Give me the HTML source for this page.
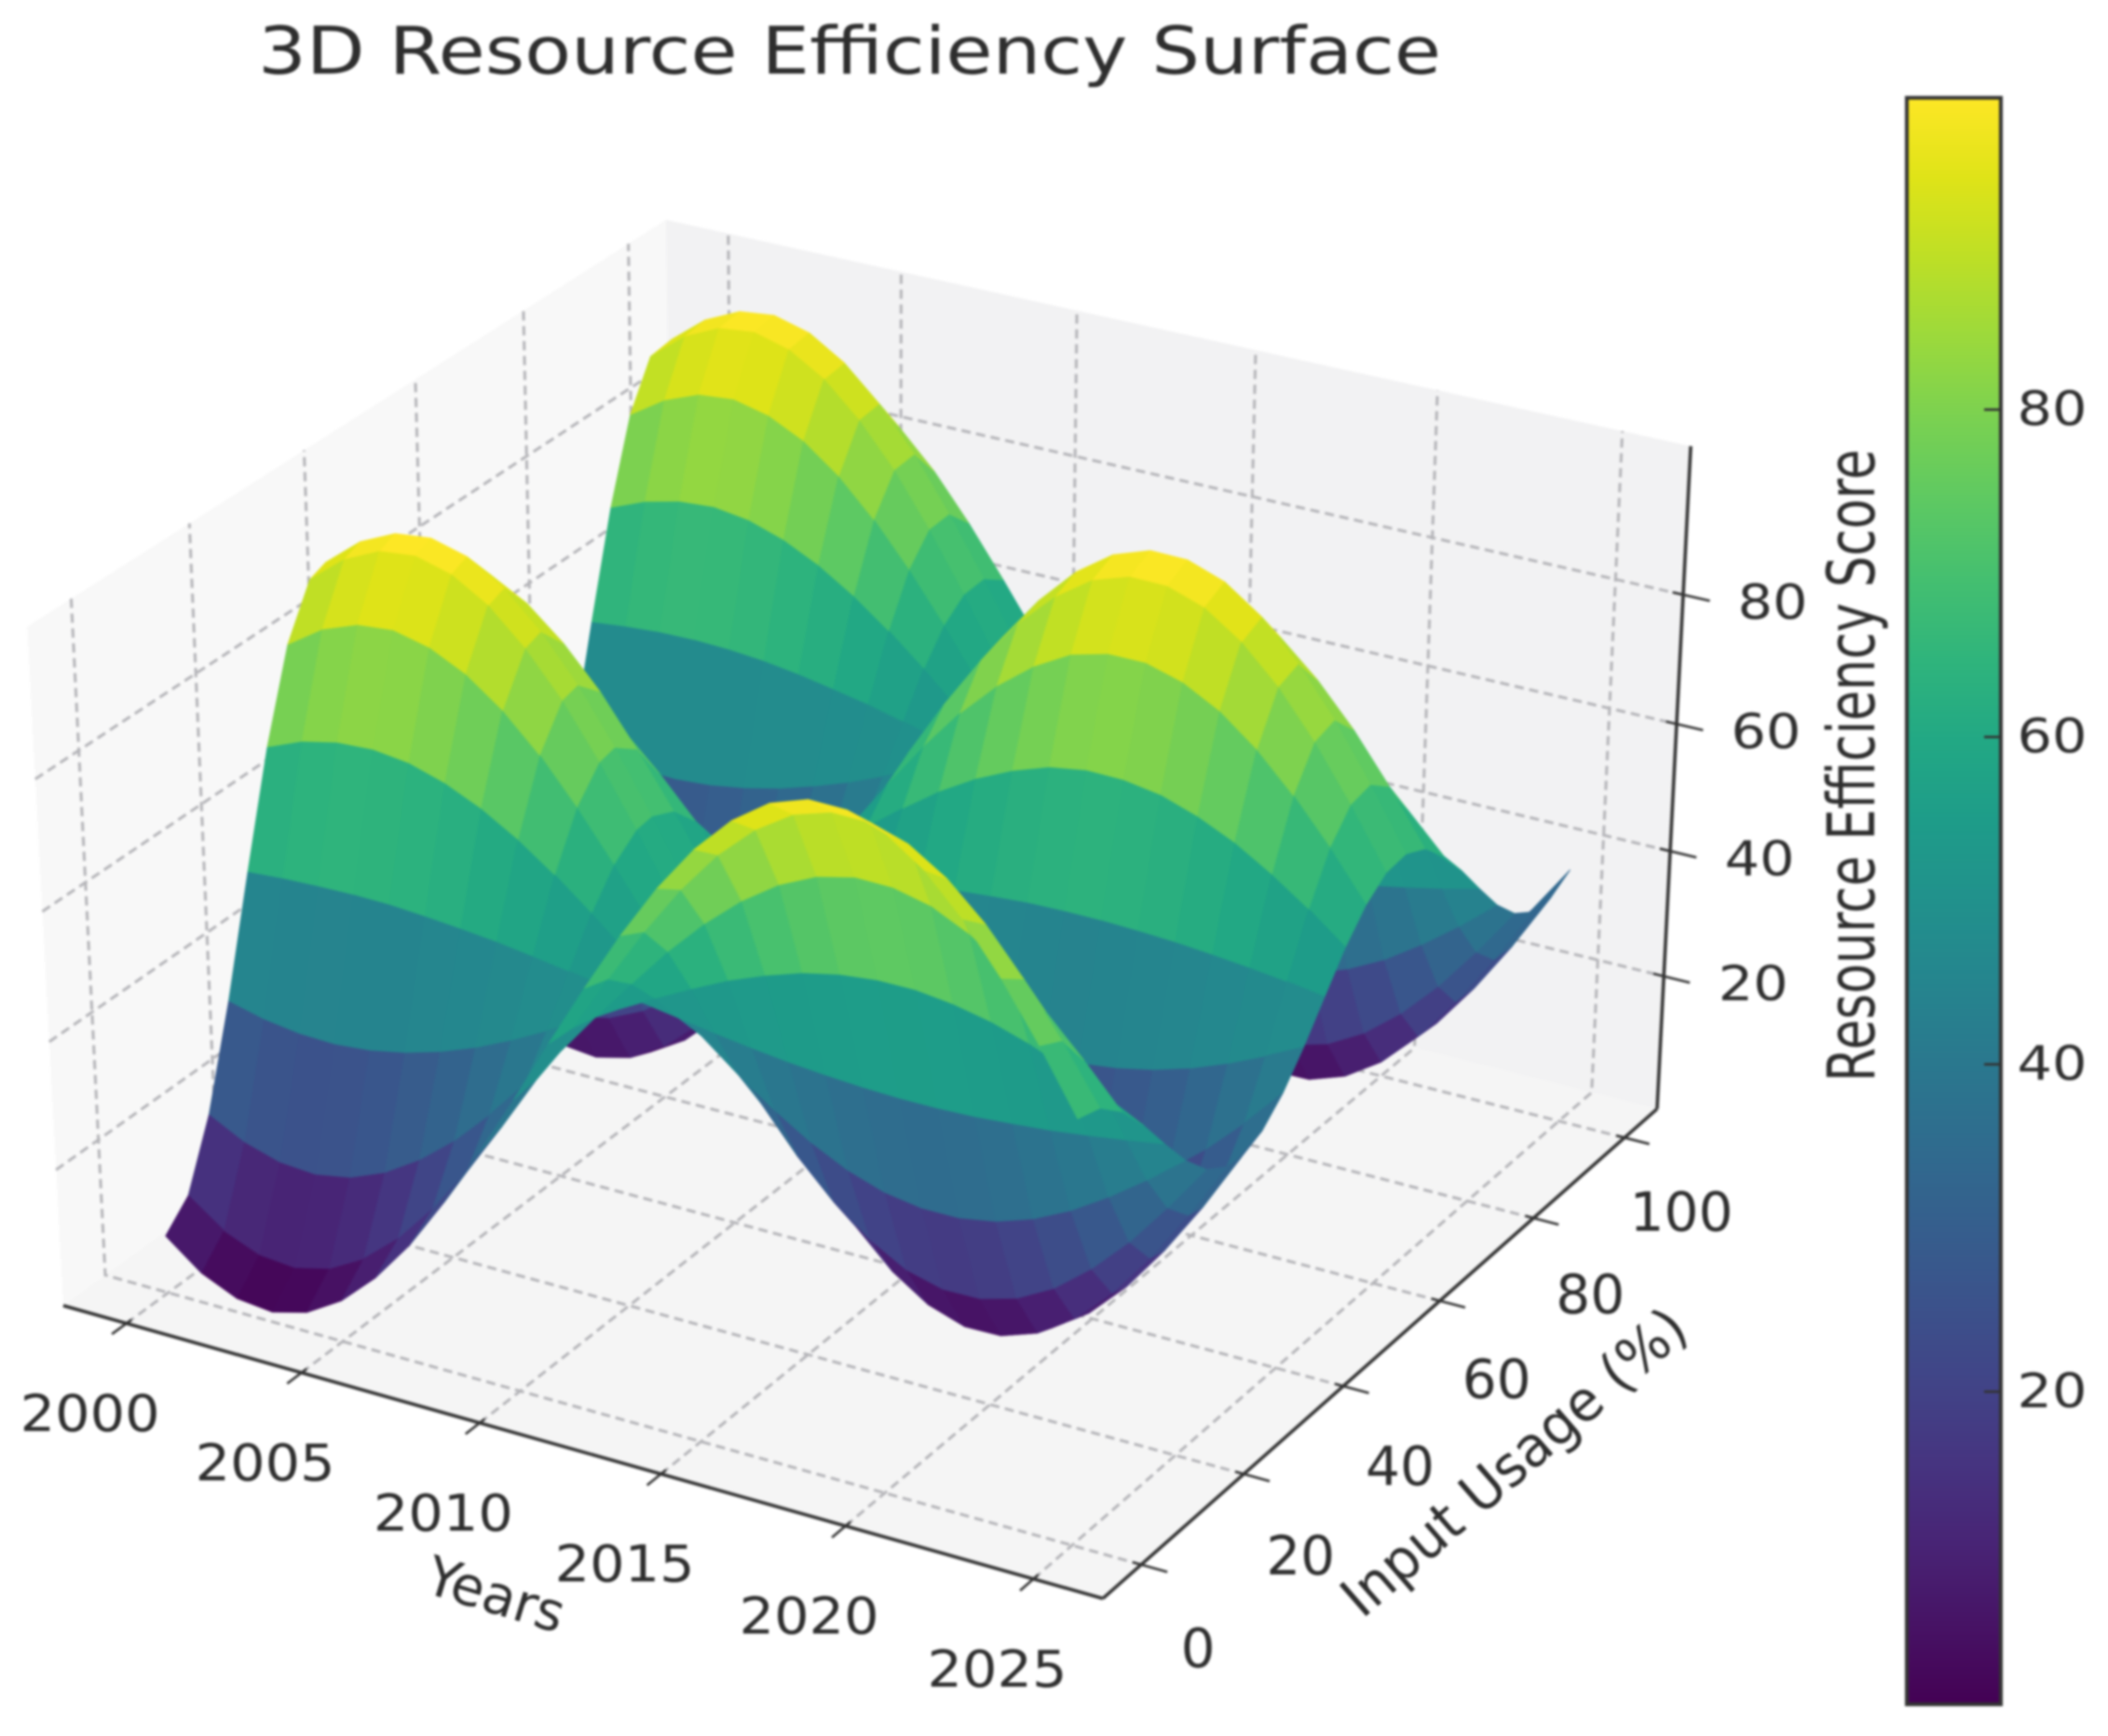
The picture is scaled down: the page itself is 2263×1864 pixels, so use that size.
<!DOCTYPE html>
<html lang="en">
<head>
<meta charset="utf-8">
<title>3D Resource Efficiency Surface</title>
<style>
html,body{margin:0;padding:0;background:#fff;width:2263px;height:1864px;overflow:hidden}
svg{display:block;filter:blur(1.3px)}
text{font-family:"DejaVu Sans","Liberation Sans",sans-serif;fill:#2e2e2e}
</style>
</head>
<body>
<svg id="chart" xmlns="http://www.w3.org/2000/svg" width="2263" height="1864" viewBox="0 0 2263 1864">
<defs><linearGradient id="cbar-gradient" x1="0" y1="1" x2="0" y2="0"></linearGradient></defs>
<rect width="2263" height="1864" fill="#fff"/>
<text x="912" y="79" text-anchor="middle" font-size="70" textLength="1270" lengthAdjust="spacingAndGlyphs">3D Resource Efficiency Surface</text>
<g id="panes"></g>
<g id="grid"></g>
<g id="axes"></g>
<g id="surface"></g>
<g id="labels"></g>
<text x="0" y="0" transform="translate(531,1716) rotate(17)" text-anchor="middle" dominant-baseline="middle" font-size="58" textLength="152" lengthAdjust="spacingAndGlyphs">Years</text>
<text x="0" y="0" transform="translate(1628,1573) rotate(-41)" text-anchor="middle" dominant-baseline="middle" font-size="60" textLength="468" lengthAdjust="spacingAndGlyphs">Input Usage (%)</text>
<text x="0" y="0" transform="translate(2012,822) rotate(-90)" text-anchor="middle" font-size="70" textLength="679" lengthAdjust="spacingAndGlyphs">Resource Efficiency Score</text>
<g id="colorbar"></g>
</svg>
<script>
const years = [2000,2001,2002,2003,2004,2005,2006,2007,2008,2009,2010,2011,2012,2013,2014,2015,2016,2017,2018,2019,2020,2021,2022,2023,2024,2025];
const inputUsage = [0,4.17,8.33,12.5,16.67,20.83,25,29.17,32,36,40,44,48,52,56,60,64,68,72,76,80,84,88,92,96,100];
const efficiency = [
[7.5,3.1,0.6,0.0,1.5,4.9,10.1,16.8,25.0,34.1,43.8,53.8,63.6,72.9,81.3,88.4,94.0,97.9,99.8,99.7,97.7,93.8,88.1,80.9,72.5,63.2],
[11.2,7.1,4.8,4.3,5.7,8.8,13.5,19.7,27.1,35.5,44.3,53.5,62.4,70.9,78.6,85.1,90.2,93.8,95.5,95.4,93.6,90.0,84.8,78.2,70.6,62.1],
[21.4,18.5,16.8,16.4,17.4,19.7,23.2,27.7,33.2,39.3,45.8,52.6,59.1,65.4,71.0,75.8,79.6,82.2,83.5,83.4,82.1,79.4,75.6,70.8,65.1,58.9],
[36.6,35.2,34.4,34.2,34.7,35.8,37.4,39.5,42.1,45.0,48.0,51.2,54.3,57.2,59.9,62.1,63.9,65.1,65.7,65.7,65.0,63.8,62.0,59.7,57.1,54.2],
[54.1,54.5,54.7,54.8,54.7,54.3,53.8,53.2,52.4,51.5,50.6,49.6,48.7,47.8,47.0,46.3,45.8,45.4,45.2,45.2,45.4,45.8,46.3,47.0,47.8,48.7],
[70.8,73.0,74.2,74.5,73.8,72.1,69.6,66.3,62.3,57.8,53.0,48.1,43.3,38.8,34.7,31.2,28.4,26.5,25.6,25.6,26.6,28.5,31.3,34.9,39.0,43.5],
[84.0,87.6,89.6,90.1,88.8,86.1,82.0,76.6,70.0,62.7,55.0,47.0,39.1,31.7,24.9,19.2,14.8,11.6,10.1,10.2,11.8,14.9,19.5,25.2,32.0,39.4],
[91.4,95.7,98.2,98.8,97.3,94.0,88.9,82.4,74.4,65.5,56.0,46.3,36.7,27.7,19.5,12.6,7.1,3.3,1.4,1.5,3.5,7.3,12.9,19.9,28.1,37.1],
[92.4,96.8,99.3,99.9,98.4,95.0,89.8,83.1,75.0,65.9,56.2,46.2,36.4,27.1,18.8,11.7,6.1,2.2,0.3,0.4,2.4,6.3,12.0,19.2,27.5,36.8],
[88.1,92.1,94.3,94.9,93.5,90.5,85.8,79.8,72.4,64.3,55.6,46.6,37.8,29.5,21.9,15.6,10.5,7.0,5.3,5.4,7.2,10.7,15.8,22.3,29.8,38.2],
[77.8,80.7,82.3,82.7,81.7,79.5,76.1,71.7,66.4,60.4,54.1,47.5,41.1,35.0,29.5,24.9,21.2,18.7,17.4,17.5,18.8,21.4,25.1,29.8,35.3,41.4],
[63.0,64.4,65.2,65.4,64.9,63.8,62.2,60.2,57.7,54.9,51.9,48.8,45.8,43.0,40.4,38.2,36.5,35.3,34.7,34.7,35.4,36.6,38.3,40.5,43.1,45.9],
[46.3,45.9,45.7,45.6,45.8,46.1,46.5,47.1,47.8,48.6,49.5,50.3,51.2,52.0,52.7,53.3,53.8,54.2,54.3,54.3,54.1,53.8,53.3,52.7,52.0,51.1],
[30.1,28.0,26.8,26.5,27.3,28.8,31.3,34.4,38.3,42.5,47.1,51.8,56.4,60.7,64.7,68.0,70.6,72.5,73.4,73.3,72.4,70.5,67.9,64.5,60.6,56.2],
[17.0,13.6,11.7,11.2,12.4,15.0,19.0,24.2,30.6,37.7,45.2,52.9,60.6,67.8,74.3,79.8,84.1,87.2,88.6,88.6,87.0,84.0,79.6,74.0,67.5,60.2],
[9.2,5.0,2.6,2.0,3.4,6.7,11.7,18.1,26.0,34.7,44.0,53.6,63.1,72.0,80.0,86.9,92.2,96.0,97.8,97.7,95.8,92.0,86.6,79.7,71.6,62.7],
[7.8,3.4,0.9,0.3,1.8,5.2,10.4,17.0,25.2,34.2,43.8,53.8,63.5,72.7,81.1,88.1,93.7,97.6,99.5,99.4,97.4,93.5,87.8,80.7,72.3,63.1],
[13.1,9.2,7.1,6.5,7.9,10.8,15.3,21.1,28.3,36.2,44.6,53.3,61.8,69.9,77.2,83.4,88.2,91.6,93.3,93.2,91.5,88.1,83.1,76.9,69.6,61.5],
[24.2,21.5,20.0,19.6,20.5,22.6,25.7,29.8,34.8,40.3,46.2,52.3,58.3,63.9,69.0,73.3,76.8,79.1,80.3,80.2,79.0,76.6,73.2,68.8,63.7,58.0],
[39.3,38.2,37.6,37.4,37.8,38.7,40.0,41.7,43.7,46.0,48.4,51.0,53.4,55.7,57.9,59.6,61.0,62.0,62.5,62.5,62.0,61.0,59.6,57.8,55.6,53.3],
[56.2,56.8,57.2,57.3,57.1,56.6,55.8,54.8,53.7,52.3,50.9,49.4,48.0,46.7,45.4,44.4,43.6,43.0,42.7,42.7,43.0,43.6,44.4,45.5,46.7,48.1],
[72.1,74.3,75.6,76.0,75.2,73.4,70.7,67.2,63.0,58.3,53.2,48.0,42.9,38.1,33.8,30.1,27.2,25.1,24.2,24.2,25.2,27.3,30.2,34.0,38.3,43.1],
[84.5,88.0,90.1,90.6,89.3,86.6,82.4,76.9,70.3,62.9,55.0,46.9,39.0,31.4,24.6,18.9,14.3,11.2,9.6,9.7,11.3,14.5,19.1,24.9,31.8,39.3],
[91.4,95.7,98.2,98.8,97.3,94.0,88.9,82.4,74.4,65.5,56.0,46.3,36.7,27.7,19.5,12.6,7.1,3.3,1.4,1.5,3.5,7.3,12.9,19.9,28.1,37.1],
[91.9,96.2,98.7,99.3,97.8,94.4,89.3,82.7,74.6,65.7,56.1,46.3,36.6,27.4,19.2,12.2,6.7,2.8,0.9,1.0,3.0,6.9,12.5,19.6,27.8,37.0],
[85.7,89.3,91.4,92.0,90.7,87.8,83.5,77.9,71.0,63.3,55.2,46.8,38.6,30.8,23.7,17.8,13.1,9.8,8.2,8.3,10.0,13.3,18.0,24.1,31.1,38.9]
];
const xTickLabels = [2000,2005,2010,2015,2020,2025];
const yTickLabels = [0,20,40,60,80,100];
const zTickLabels = [20,40,60,80];
const colorbarTickLabels = [20,40,60,80];
const viridis = ['#440154','#471365','#482475','#463480','#414487','#3b528b','#355f8d','#2f6c8e','#2a788e','#25858e','#21918c','#1e9c89','#22a884','#2fb47c','#44bf70','#5ec962','#7ad151','#9bd93c','#bddf26','#dfe318','#fde725'];

const NS = 'http://www.w3.org/2000/svg';
const box = [1.143, 1.143, 0.857];
const view = {sx: 11190, ox: 938.6, sy: 9700, oy: 942};
const U = [0.866, 0.5, 0];
const V = [-0.25, 0.433, 0.866];
const W = [0.433, -0.75, 0.5];
function dot(a, b) { return a[0]*b[0] + a[1]*b[1] + a[2]*b[2]; }
function project(tx, ty, tz) {
  const q = [(tx-0.5)*box[0], (ty-0.5)*box[1], (tz-0.5)*box[2]];
  const d = 10 - dot(W, q);
  return {x: view.ox + view.sx*dot(U, q)/d, y: view.oy - view.sy*dot(V, q)/d, d: d};
}
function xAxis(v) { return 0.0637 + 0.8726*(v - 2000)/25; }
function yAxis(v) { return 0.0637 + 0.8726*v/100; }
function zAxis(v) { return 0.015 + 0.96*v/100; }
function make(tag, attrs, parent) {
  const el = document.createElementNS(NS, tag);
  for (const k in attrs) el.setAttribute(k, attrs[k]);
  parent.appendChild(el);
  return el;
}
function hexRgb(h) { return [parseInt(h.slice(1,3),16), parseInt(h.slice(3,5),16), parseInt(h.slice(5,7),16)]; }
function colormap(t) {
  const p = Math.max(0, Math.min(1, t))*(viridis.length-1);
  const i = Math.min(viridis.length-2, Math.floor(p));
  const a = hexRgb(viridis[i]), b = hexRgb(viridis[i+1]), f = p-i;
  return 'rgb(' + [0,1,2].map(k => Math.round(a[k]+(b[k]-a[k])*f)).join(',') + ')';
}
function pts(list) { return list.map(p => p.x.toFixed(1)+','+p.y.toFixed(1)).join(' '); }

/* panes */
const panesG = document.getElementById('panes');
const leftPane = make('polygon', {points: pts([project(0,0,0),project(0,1,0),project(0,1,1),project(0,0,1)]), fill: '#f8f8f8'}, panesG);


const backPane = make('polygon', {points: pts([project(0,1,0),project(1,1,0),project(1,1,1),project(0,1,1)]), fill: '#f2f2f3'}, panesG);


const floorPane = make('polygon', {points: pts([project(0,0,0),project(1,0,0),project(1,1,0),project(0,1,0)]), fill: '#f5f5f5'}, panesG);



/* grid */
const gridG = document.getElementById('grid');
function gridLine(list, name) {
  const el = make('polyline', {points: pts(list), fill: 'none', stroke: '#b4b4b8', 'stroke-width': 3, 'stroke-dasharray': '10 6'}, gridG);
  
  
}
xTickLabels.forEach(v => { const t = xAxis(v); gridLine([project(t,0,0),project(t,1,0),project(t,1,1)], 'x-grid-line'); });
yTickLabels.forEach(v => { const t = yAxis(v); gridLine([project(1,t,0),project(0,t,0),project(0,t,1)], 'y-grid-line'); });
zTickLabels.forEach(v => { const t = zAxis(v); gridLine([project(0,0,t),project(0,1,t),project(1,1,t)], 'z-grid-line'); });

/* axis lines and ticks */
const axesG = document.getElementById('axes');
const labelsG = document.getElementById('labels');
function axisLine(a, b, name) {
  const el = make('line', {x1: a.x, y1: a.y, x2: b.x, y2: b.y, stroke: '#333', 'stroke-width': 3.6}, axesG);
  
  
}
axisLine(project(0,0,0), project(1,0,0), 'x-axis-line');
axisLine(project(1,0,0), project(1,1,0), 'y-axis-line');
axisLine(project(1,1,0), project(1,1,1), 'z-axis-line');
function tickMark(a, b, name) {
  const el = make('line', {x1: a.x, y1: a.y, x2: b.x, y2: b.y, stroke: '#333', 'stroke-width': 2.6}, axesG);
  
  
}
function tickLabel(p, dx, dy, text, name, size, len) {
  const el = make('text', {x: (p.x+dx).toFixed(1), y: (p.y+dy).toFixed(1), 'text-anchor': 'middle', 'dominant-baseline': 'central', 'font-size': size, textLength: len, lengthAdjust: 'spacingAndGlyphs'}, labelsG);
  el.textContent = text;
  
  
}
xTickLabels.forEach(v => {
  const t = xAxis(v);
  tickMark(project(t,-0.022,0), project(t,0.008,0), 'x-tick');
  tickLabel(project(t,0,0), -39, 97, String(v), 'x-tick-label', 54, 150);
});
yTickLabels.forEach(v => {
  const t = yAxis(v);
  tickMark(project(0.992,t,0), project(1.024,t,0), 'y-tick');
  tickLabel(project(1,t,0), 61, 90 - v*0.1, String(v), 'y-tick-label', 58, String(v).length*37);
});
zTickLabels.forEach(v => {
  const t = zAxis(v);
  tickMark(project(0.99,1,t), project(1.025,1,t), 'z-tick');
  tickLabel(project(1,1,t), 96, 9, String(v), 'z-tick-label', 52, 75);
});

/* surface */
const faces = [];
for (let j = 0; j < inputUsage.length-1; j++) {
  for (let i = 0; i < years.length-1; i++) {
    const corners = [[i,j],[i+1,j],[i+1,j+1],[i,j+1]];
    const p = corners.map(c => project(xAxis(years[c[0]]), yAxis(inputUsage[c[1]]), zAxis(efficiency[c[1]][c[0]])));
    const mean = corners.reduce((s,c) => s + efficiency[c[1]][c[0]], 0)/4;
    const depth = p.reduce((s,q) => s + q.d, 0)/4;
    faces.push({p: p, mean: mean, depth: depth});
  }
}
const vmin = Math.min(...faces.map(f => f.mean));
const vmax = Math.max(...faces.map(f => f.mean));
faces.sort((a,b) => b.depth - a.depth);
const surfaceG = document.getElementById('surface');
faces.forEach(f => {
  const col = colormap((f.mean-vmin)/(vmax-vmin));
  const el = make('polygon', {points: pts(f.p), fill: col, stroke: col, 'stroke-width': 0.8, 'stroke-linejoin': 'round'}, surfaceG);
  
  
});

/* colorbar */
const cb = {x: 2047, y: 105, w: 101, h: 1725};
const grad = document.getElementById('cbar-gradient');
viridis.forEach((c,i) => { make('stop', {offset: i/(viridis.length-1), 'stop-color': c}, grad); });
const cbG = document.getElementById('colorbar');
const cbRect = make('rect', {x: cb.x, y: cb.y, width: cb.w, height: cb.h, fill: 'url(#cbar-gradient)'}, cbG);


function cbAxis(v) { return cb.y + cb.h*(1-(v-vmin)/(vmax-vmin)); }
colorbarTickLabels.forEach(v => {
  const y = cbAxis(v);
  const tk = make('line', {x1: cb.x+cb.w-18, x2: cb.x+cb.w, y1: y, y2: y, stroke: '#333', 'stroke-width': 2.6}, cbG);
  
  
  const lb = make('text', {x: 2203, y: y.toFixed(1), 'text-anchor': 'middle', 'dominant-baseline': 'central', 'font-size': 51, textLength: 75, lengthAdjust: 'spacingAndGlyphs'}, cbG);
  lb.textContent = String(v);
  
  
});
const cbFrame = make('rect', {x: cb.x, y: cb.y, width: cb.w, height: cb.h, fill: 'none', stroke: '#333', 'stroke-width': 4}, cbG);


</script>
</body>
</html>
